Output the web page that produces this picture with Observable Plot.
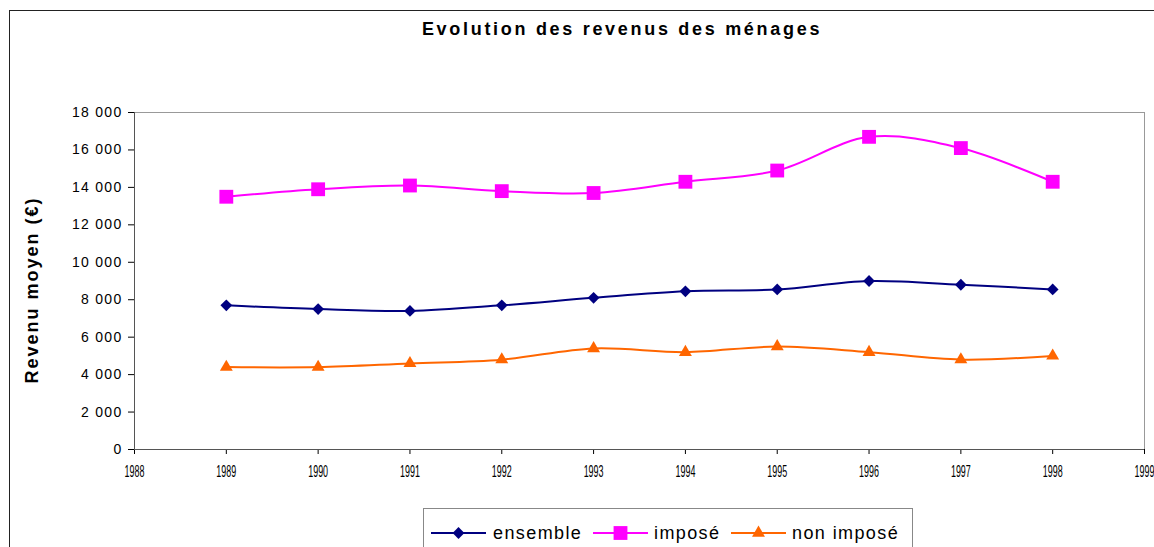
<!DOCTYPE html>
<html><head><meta charset="utf-8">
<script src="https://cdn.jsdelivr.net/npm/d3@7"></script>
<script src="https://cdn.jsdelivr.net/npm/@observablehq/plot@0.6"></script>
<style>
body{margin:0;background:#fff;font-family:"Liberation Sans",Arial,sans-serif;}
#wrap{position:relative;width:1154px;height:547px;overflow:hidden;background:#fff;}
#border{position:absolute;left:9px;top:10px;width:1200px;height:600px;border-top:1.5px solid #222;border-left:1.5px solid #222;}
#title{position:absolute;left:0;width:1244px;top:19px;text-align:center;font-weight:bold;font-size:18px;letter-spacing:2.7px;}
#chart{position:absolute;left:0;top:0;}
#ytitle{position:absolute;left:32px;top:290px;transform:translate(-50%,-50%) rotate(-90deg);font-weight:bold;font-size:18px;letter-spacing:2px;white-space:nowrap;}
#legend{position:absolute;left:423px;top:508px;width:488px;height:60px;border:1px solid #888;background:#fff;}
#legend svg{position:absolute;left:0;top:0;}
</style></head>
<body>
<div id="wrap">
<div id="border"></div>
<div id="chart"></div>
<div id="title">Evolution des revenus des ménages</div>
<div id="ytitle">Revenu moyen (€)</div>
<div id="legend"></div>
</div>
<script>
const years = [1989,1990,1991,1992,1993,1994,1995,1996,1997,1998];
const ensemble = [7700,7500,7400,7700,8100,8450,8550,9000,8800,8550];
const impose = [13500,13900,14100,13800,13700,14300,14900,16700,16100,14300];
const nonImpose = [4400,4400,4600,4800,5400,5200,5500,5200,4800,5000];
const seriesNames = ["ensemble","imposé","non imposé"];
const seriesColors = ["#000080","#FF00FF","#FF6600"];
const seriesSymbols = ["diamond2","square","triangle"];
const xTicks = [1988,1989,1990,1991,1992,1993,1994,1995,1996,1997,1998,1999];
const yTicks = [0,2000,4000,6000,8000,10000,12000,14000,16000,18000];

const allValues = [ensemble, impose, nonImpose];
const data = [];
allValues.forEach((vals, i) => vals.forEach((v, j) => data.push({year: years[j], value: v, serie: seriesNames[i]})));
const fmt = d => d3.format(",")(d).replace(/,/g, " ");
const rFor = {"ensemble":5.3, "imposé":7.8, "non imposé":4.8};

const marks = [
  Plot.frame({stroke:"#999", strokeWidth:1}),
  Plot.axisY(yTicks, {tickSize:6, tickPadding:6, tickFormat: fmt, fontSize:14, label:null}),
  Plot.axisX(xTicks, {tickSize:5, tickPadding:11, tickFormat: d => String(d), fontSize:16, label:null}),
  Plot.ruleX([1988], {stroke:"#555"}),
  Plot.ruleY([0], {stroke:"#555"})
];
seriesNames.forEach((s, i) => {
  const d = data.filter(e => e.serie === s);
  marks.push(Plot.line(d, {x:"year", y:"value", stroke: seriesColors[i], strokeWidth:2, curve:"catmull-rom"}));
  marks.push(Plot.dot(d, {x:"year", y:"value", symbol: () => seriesSymbols[i], fill: seriesColors[i], r: rFor[s], stroke:"none"}));
});

const chart = Plot.plot({
  width: 1154, height: 500,
  marginLeft: 134, marginRight: 10, marginTop: 112, marginBottom: 51,
  style: {fontFamily: '"Liberation Sans", Arial, sans-serif', color:"#000", background:"transparent"},
  x: {domain:[1988,1999], axis:null},
  y: {domain:[0,18000], axis:null},
  symbol: {type:"identity"},
  marks
});
document.getElementById("chart").appendChild(chart);

// condensed x labels and spaced y labels, as in the reference
d3.select(chart).selectAll('g[aria-label="x-axis tick label"] text').each(function(){
  const t = d3.select(this);
  t.attr("transform", (t.attr("transform") || "") + " scale(0.56,1)");
});
d3.select(chart).selectAll('g[aria-label="y-axis tick label"] text').style("letter-spacing","1.3px");

// legend
const lg = d3.select("#legend").append("svg").attr("width",488).attr("height",60);
const items = [{x0:7, tx:69}, {x0:169, tx:230}, {x0:307, tx:368}];
seriesNames.forEach((s, i) => {
  const it = items[i];
  lg.append("line").attr("x1", it.x0).attr("x2", it.x0+55).attr("y1",24).attr("y2",24)
    .attr("stroke", seriesColors[i]).attr("stroke-width",2);
  lg.append("path").attr("transform",`translate(${it.x0+27.5},24)`)
    .attr("d", d3.symbol(i===0?d3.symbolDiamond2:i===1?d3.symbolSquare:d3.symbolTriangle, Math.PI*rFor[s]*rFor[s])())
    .attr("fill", seriesColors[i]);
  lg.append("text").attr("x", it.tx).attr("y", 30).attr("font-size",18).attr("fill","#000")
    .style("letter-spacing","1.4px")
    .attr("font-family",'"Liberation Sans", Arial, sans-serif').text(s);
});
</script>
</body></html>
